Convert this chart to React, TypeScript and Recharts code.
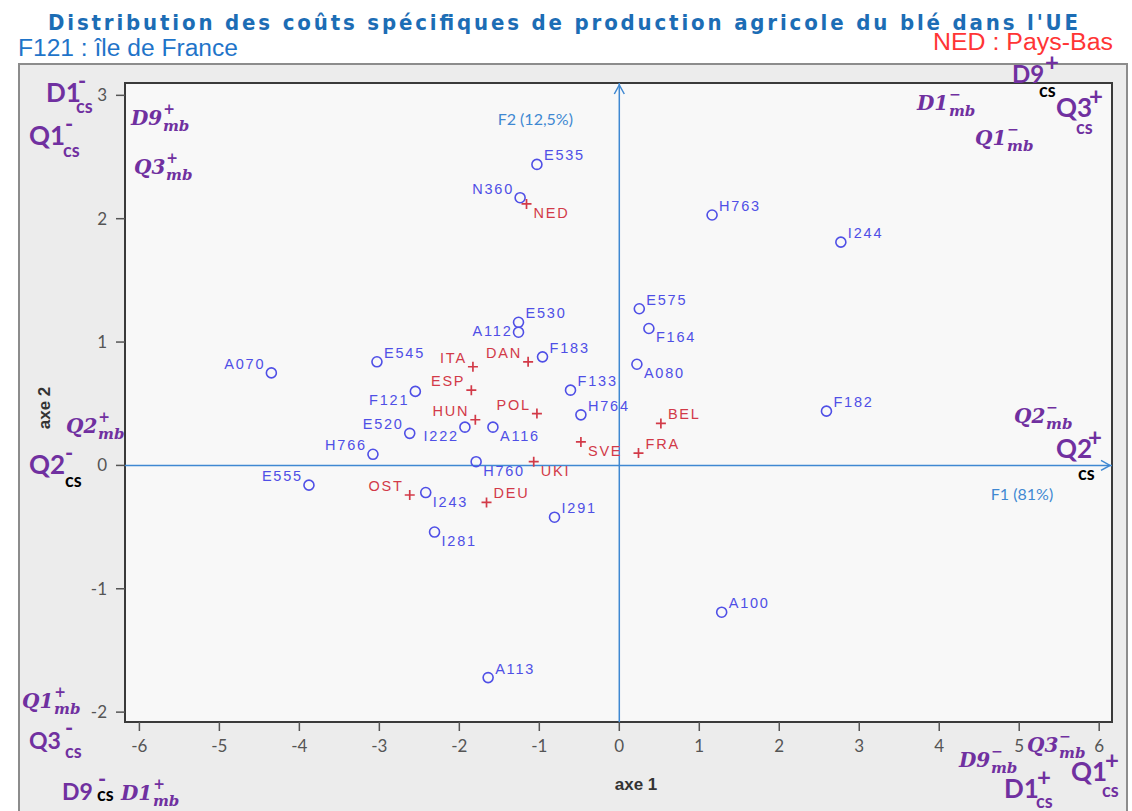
import {
  CartesianGrid,
  ReferenceArea,
  ReferenceLine,
  Scatter,
  ScatterChart,
  XAxis,
  YAxis,
} from "recharts";

// farms (regions) on the first factorial plane
const farmCodes = ["A070", "E545", "F121", "E520", "I222", "H766", "E555", "I243", "I281", "H760", "A116", "E530", "A112", "F183", "F133", "H764", "E575", "F164", "A080", "E535", "N360", "H763", "I244", "F182", "I291", "A100", "A113"];
const farmF1 = [-4.35, -3.03, -2.55, -2.62, -1.93, -3.08, -3.88, -2.42, -2.31, -1.79, -1.58, -1.26, -1.26, -0.96, -0.61, -0.48, 0.25, 0.37, 0.22, -1.03, -1.24, 1.16, 2.77, 2.59, -0.81, 1.28, -1.64];
const farmF2 = [0.75, 0.84, 0.6, 0.26, 0.31, 0.09, -0.16, -0.22, -0.54, 0.03, 0.31, 1.16, 1.08, 0.88, 0.61, 0.41, 1.27, 1.11, 0.82, 2.44, 2.17, 2.03, 1.81, 0.44, -0.42, -1.19, -1.72];

// countries (supplementary points)
const countryCodes = ["NED", "ITA", "ESP", "HUN", "DAN", "POL", "SVE", "FRA", "BEL", "UKI", "OST", "DEU"];
const countryF1 = [-1.16, -1.83, -1.85, -1.8, -1.14, -1.03, -0.48, 0.24, 0.52, -1.07, -2.62, -1.66];
const countryF2 = [2.12, 0.8, 0.61, 0.37, 0.84, 0.42, 0.19, 0.1, 0.34, 0.03, -0.24, -0.3];

const xTicks = [-6, -5, -4, -3, -2, -1, 0, 1, 2, 3, 4, 5, 6];
const yTicks = [-2, -1, 0, 1, 2, 3];

const X_DOMAIN: [number, number] = [-6.18, 6.16];
const Y_DOMAIN: [number, number] = [-2.08, 3.1];

// which side of the marker the code is written on
const labelSide: Record<string, string> = {
  A070: "ul", E520: "ul", H766: "ul", E555: "ul", N360: "ul",
  OST: "ul", ITA: "ul", ESP: "ul", HUN: "ul", DAN: "ul", POL: "ul",
  F121: "dl", I222: "dl",
  A112: "l",
  I243: "dr", I281: "dr", H760: "dr", A116: "dr", F164: "dr", A080: "dr",
  SVE: "dr", UKI: "dr", NED: "dr",
};

const farms = farmCodes.map((name, i) => ({ name, x: farmF1[i], y: farmF2[i] }));
const countries = countryCodes.map((name, i) => ({ name, x: countryF1[i], y: countryF2[i] }));

const BLUE = "#4f4fe6";
const RED = "#d23a48";
const AXIS_BLUE = "#3f88d2";
const PURPLE = "#7030a0";

const markerShape = (kind: "farm" | "country") => (props: any) => {
  const { cx, cy, payload } = props;
  const side = labelSide[payload.name] ?? "ur";
  const right = side === "ur" || side === "dr";
  const dy = side === "ur" || side === "ul" ? -9 : side === "l" ? -1 : 9;
  const color = kind === "farm" ? BLUE : RED;
  return (
    <g>
      {kind === "farm" ? (
        <circle cx={cx} cy={cy} r={5} fill="none" stroke={color} strokeWidth={1.6} />
      ) : (
        <path
          d={`M${cx - 5},${cy}h10M${cx},${cy - 5}v10`}
          stroke={color}
          strokeWidth={1.7}
        />
      )}
      <text
        x={right ? cx + 7 : cx - 6}
        y={cy + dy}
        textAnchor={right ? "start" : "end"}
        dominantBaseline="central"
        fill={color}
        fontSize={14.5}
        letterSpacing={1.8}
        fontFamily="'Liberation Sans', Arial, sans-serif"
      >
        {payload.name}
      </text>
    </g>
  );
};

const arrowAxis = (dir: "up" | "right") => (p: any) => {
  const { x1, y1, x2, y2 } = p;
  let tipX: number, tipY: number, path: string;
  if (dir === "up") {
    tipX = x1;
    tipY = Math.min(y1, y2) + 2;
    path = `M${tipX - 5},${tipY + 9}L${tipX},${tipY}L${tipX + 5},${tipY + 9}`;
  } else {
    tipX = Math.max(x1, x2) - 2;
    tipY = y1;
    path = `M${tipX - 9},${tipY - 5}L${tipX},${tipY}L${tipX - 9},${tipY + 5}`;
  }
  return (
    <g>
      <line x1={x1} y1={y1} x2={x2} y2={y2} stroke={AXIS_BLUE} strokeWidth={1.5} />
      <path d={path} fill="none" stroke={AXIS_BLUE} strokeWidth={1.5} />
      <text
        x={dir === "up" ? tipX - 84 : tipX - 88}
        y={dir === "up" ? tipY + 33 : tipY + 28}
        textAnchor="middle"
        dominantBaseline="central"
        fill={AXIS_BLUE}
        fontSize={16}
        fontFamily="Lato, sans-serif"
      >
        {dir === "up" ? "F2 (12,5%)" : "F1 (81%)"}
      </text>
    </g>
  );
};

type CsNote = {
  base: string; sign: string; x: number; y: number;
  signX: number; subX: number; subY: number; black?: boolean; size?: number;
};

const csNotes: CsNote[] = [
  { base: "D1", sign: "-", x: 46, y: 102, signX: 78, subX: 76, subY: 113 },
  { base: "Q1", sign: "-", x: 29, y: 145, signX: 65, subX: 63, subY: 157 },
  { base: "D9", sign: "+", x: 1012, y: 83, signX: 1045, subX: 1039, subY: 97, black: true, size: 24 },
  { base: "Q3", sign: "+", x: 1056, y: 117, signX: 1089, subX: 1076, subY: 134 },
  { base: "Q2", sign: "-", x: 29, y: 474, signX: 65, subX: 65, subY: 487, black: true },
  { base: "Q2", sign: "+", x: 1056, y: 458, signX: 1088, subX: 1078, subY: 480, black: true },
  { base: "Q3", sign: "-", x: 29, y: 749, signX: 65, subX: 65, subY: 758, size: 23 },
  { base: "D9", sign: "-", x: 62, y: 800, signX: 98, subX: 97, subY: 801, black: true, size: 23 },
  { base: "D1", sign: "+", x: 1004, y: 798, signX: 1037, subX: 1036, subY: 808 },
  { base: "Q1", sign: "+", x: 1071, y: 781, signX: 1105, subX: 1102, subY: 797 },
];

type MbNote = { base: string; sign: string; x: number; y: number };

const mbNotes: MbNote[] = [
  { base: "D9", sign: "+", x: 131, y: 125 },
  { base: "Q3", sign: "+", x: 134, y: 174 },
  { base: "D1", sign: "\u2212", x: 917, y: 110 },
  { base: "Q1", sign: "\u2212", x: 975, y: 145 },
  { base: "Q2", sign: "+", x: 66, y: 433 },
  { base: "Q2", sign: "\u2212", x: 1014, y: 423 },
  { base: "Q1", sign: "+", x: 22, y: 708 },
  { base: "D1", sign: "+", x: 121, y: 800 },
  { base: "D9", sign: "\u2212", x: 959, y: 767 },
  { base: "Q3", sign: "\u2212", x: 1027, y: 752 },
];

function Annotations() {
  return (
    <svg
      width={1132}
      height={811}
      style={{ position: "absolute", left: 0, top: 0, pointerEvents: "none" }}
    >
      <text
        x={48}
        y={30}
        textLength={1030}
        lengthAdjust="spacing"
        fill="#1c6db5"
        fontSize={22}
        fontWeight={700}
        fontStretch="condensed"
        fontFamily="'DejaVu Sans Condensed', 'Liberation Sans Narrow', 'Liberation Sans', Arial, sans-serif"
      >
        Distribution des coûts spécifiques de production agricole du blé dans l'UE
      </text>
      <text
        x={18}
        y={56}
        textLength={220}
        lengthAdjust="spacingAndGlyphs"
        fill="#1f74c9"
        fontSize={23}
        fontFamily="'Liberation Sans', Arial, sans-serif"
      >
        F121 : île de France
      </text>
      <text
        x={933}
        y={50}
        textLength={180}
        lengthAdjust="spacingAndGlyphs"
        fill="#ff3535"
        fontSize={23}
        fontFamily="'Liberation Sans', Arial, sans-serif"
      >
        NED : Pays-Bas
      </text>
      <text
        x={636}
        y={784}
        textAnchor="middle"
        dominantBaseline="central"
        fill="#333"
        fontSize={17}
        fontWeight={700}
        fontFamily="'Liberation Sans', Arial, sans-serif"
      >
        axe 1
      </text>
      <text
        x={44}
        y={408}
        textAnchor="middle"
        dominantBaseline="central"
        transform="rotate(-90 44 408)"
        fill="#333"
        fontSize={17}
        fontWeight={700}
        fontFamily="'Liberation Sans', Arial, sans-serif"
      >
        axe 2
      </text>
      {csNotes.map((n, i) => (
        <g key={`cs-${i}`} fontFamily="Lato, sans-serif" fontWeight={700}>
          <text x={n.x} y={n.y} fill={PURPLE} fontSize={n.size ?? 26}>
            {n.base}
          </text>
          <text
            x={n.signX}
            y={n.y - 22}
            dominantBaseline="central"
            fill={PURPLE}
            fontSize={n.sign === "+" ? 24 : 22}
          >
            {n.sign}
          </text>
          <text x={n.subX} y={n.subY} fill={n.black ? "#000" : PURPLE} fontSize={18}>
            cs
          </text>
        </g>
      ))}
      {mbNotes.map((n, i) => (
        <text
          key={`mb-${i}`}
          x={n.x}
          y={n.y}
          fill={PURPLE}
          fontFamily="'DejaVu Serif', serif"
          fontStyle="italic"
          fontWeight={700}
          fontSize={20}
        >
          <tspan>{n.base}</tspan>
          <tspan dx={1} dy={-11} fontSize={14}>{n.sign}</tspan>
          <tspan dx={-12} dy={17} fontSize={15}>mb</tspan>
        </text>
      ))}
    </svg>
  );
}

export default function App() {
  return (
    <div
      style={{
        position: "absolute",
        left: 0,
        top: 0,
        width: 1132,
        height: 811,
        background: "#ffffff",
        overflow: "hidden",
      }}
    >
      <div
        style={{
          position: "absolute",
          left: 18,
          top: 63,
          width: 1110,
          height: 760,
          background: "#ececec",
          border: "2px solid #8c8c8c",
          boxSizing: "border-box",
        }}
      />
      <ScatterChart
        width={1132}
        height={811}
        margin={{ top: 83, right: 20, bottom: 49, left: 85 }}
        style={{ position: "absolute", left: 0, top: 0 }}
      >
        <CartesianGrid fill="#f8f8f8" horizontal={false} vertical={false} />
        <XAxis
          type="number"
          dataKey="x"
          domain={X_DOMAIN}
          ticks={xTicks}
          allowDataOverflow
          height={40}
          axisLine={false}
          tickSize={9}
          tickMargin={9}
          tickLine={{ stroke: "#555", strokeWidth: 1.5 }}
          tick={{ fill: "#555", fontSize: 17, fontFamily: "Lato, sans-serif" }}
        />
        <YAxis
          type="number"
          dataKey="y"
          domain={Y_DOMAIN}
          ticks={yTicks}
          allowDataOverflow
          width={40}
          axisLine={false}
          tickSize={9}
          tickMargin={9}
          tickLine={{ stroke: "#555", strokeWidth: 1.5 }}
          tick={{ fill: "#555", fontSize: 17, fontFamily: "Lato, sans-serif" }}
        />
        <ReferenceArea
          x1={X_DOMAIN[0]}
          x2={X_DOMAIN[1]}
          y1={Y_DOMAIN[0]}
          y2={Y_DOMAIN[1]}
          fill="none"
          fillOpacity={0}
          stroke="#3a3a3a"
          strokeWidth={2}
        />
        <ReferenceLine x={0} shape={arrowAxis("up")} />
        <ReferenceLine y={0} shape={arrowAxis("right")} />
        <Scatter
          data={farms}
          shape={markerShape("farm")}
          isAnimationActive={false}
        />
        <Scatter
          data={countries}
          shape={markerShape("country")}
          isAnimationActive={false}
        />
      </ScatterChart>
      <Annotations />
    </div>
  );
}
